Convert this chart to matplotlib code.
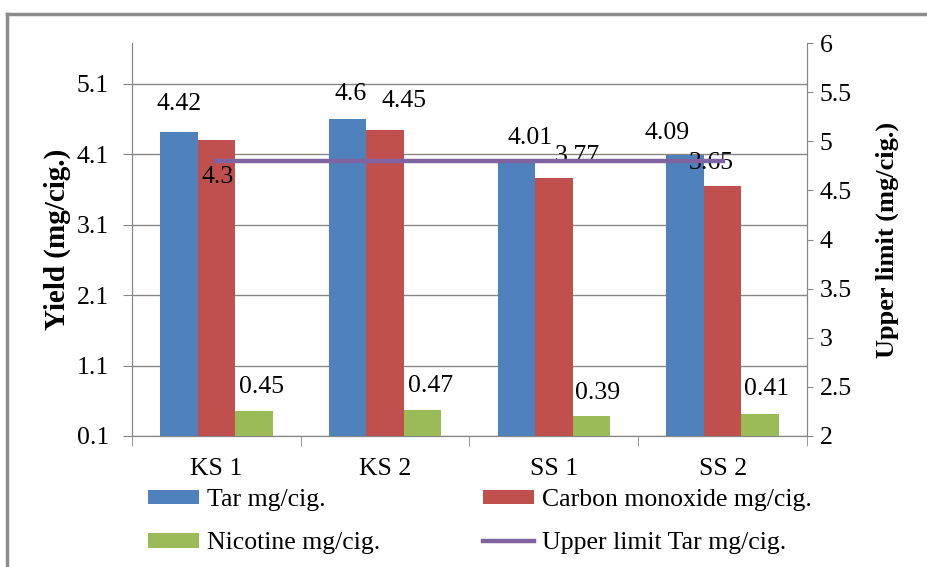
import matplotlib
matplotlib.use('Agg')
import matplotlib.pyplot as plt
from matplotlib.lines import Line2D
import numpy as np

plt.rcParams['font.family'] = ['Liberation Serif', 'DejaVu Serif']

categories = ['KS 1', 'KS 2', 'SS 1', 'SS 2']
tar = [4.42, 4.6, 4.01, 4.09]
co = [4.3, 4.45, 3.77, 3.65]
nicotine = [0.45, 0.47, 0.39, 0.41]
upper_limit = [4.8, 4.8, 4.8, 4.8]

# label offsets in pixels (dx, dy) from bar top, as the labels were moved around in the original
tar_off = [(0, 28), (3, 25), (14, 23), (-18, 22)]
co_off = [(1, -37), (19, 29), (23, 22), (-11, 23)]
nic_off = [(8, 24), (8, 24), (6, 23), (6, 25)]

fs = 18.5
grey = '#868686'
fig = plt.figure(figsize=(9.28, 5.67), dpi=100)
ax = fig.add_axes([132/928, 1-436/567, 675/928, 393/567])
ax2 = ax.twinx()

x = np.arange(len(categories))
w = 0.222
b1 = ax.bar(x - w, np.array(tar) - 0.1, w, bottom=0.1, color='#4F81BD', label='Tar mg/cig.', zorder=3)
b2 = ax.bar(x, np.array(co) - 0.1, w, bottom=0.1, color='#C0504D', label='Carbon monoxide mg/cig.', zorder=3)
b3 = ax.bar(x + w, np.array(nicotine) - 0.1, w, bottom=0.1, color='#9BBB59', label='Nicotine mg/cig.', zorder=3)
ln, = ax2.plot(x, upper_limit, color='#8064A2', lw=3.2, label='Upper limit Tar mg/cig.', zorder=4)

for vals, offs, shift in [(tar, tar_off, -w), (co, co_off, 0), (nicotine, nic_off, w)]:
    for i, v in enumerate(vals):
        ax.annotate(f'{v:g}', (i + shift, v), xytext=offs[i], textcoords='offset pixels',
                    ha='center', va='center', fontsize=fs, zorder=5)

ax.set_xlim(-0.5, 3.5)
ax.set_ylim(0.1, 5.68)
ax.set_yticks([0.1, 1.1, 2.1, 3.1, 4.1, 5.1])
ax.set_yticklabels(['0.1', '1.1', '2.1', '3.1', '4.1', '5.1'])
ax2.set_ylim(2, 6)
ax2.set_yticks([2, 2.5, 3, 3.5, 4, 4.5, 5, 5.5, 6])
ax2.set_yticklabels(['2', '2.5', '3', '3.5', '4', '4.5', '5', '5.5', '6'])

ax.set_xticks(x)
ax.set_xticklabels(categories)
ax.set_xticks(np.arange(-0.5, 4, 1), minor=True)
ax.tick_params(axis='x', which='major', length=0, pad=16, labelsize=fs)
ax.tick_params(axis='x', which='minor', length=7, color=grey)
ax.tick_params(axis='y', length=6.5, color=grey, labelsize=fs, pad=10)
ax2.tick_params(axis='y', length=4.3, color=grey, labelsize=fs, pad=5)

ax.grid(axis='y', color=grey, lw=1, zorder=0)
for a in (ax, ax2):
    a.spines['top'].set_visible(False)
    for s in ('left', 'right', 'bottom'):
        a.spines[s].set_color(grey)

ax.set_ylabel('Yield (mg/cig.)', fontsize=21, fontweight='bold', labelpad=4)
ax2.set_ylabel('Upper limit (mg/cig.)', fontsize=19, fontweight='bold', labelpad=17)

leg_kw = dict(loc='upper left', frameon=False, fontsize=fs, handlelength=2.0, handleheight=0.5,
              handletextpad=0.3, labelspacing=0.83, borderaxespad=0, borderpad=0)
fig.legend(handles=[b1, b3], bbox_to_anchor=(148/928, 1-489/567), **leg_kw)
fig.legend(handles=[b2, ln], bbox_to_anchor=(483/928, 1-489/567), **leg_kw)

fig.add_artist(Line2D([7/928, 7/928], [0, 1-14/567], color='#8c8c8c', lw=2.5))
fig.add_artist(Line2D([7/928, 1], [1-14/567, 1-14/567], color='#8c8c8c', lw=2.5))

fig.savefig('out.png', dpi=100)
